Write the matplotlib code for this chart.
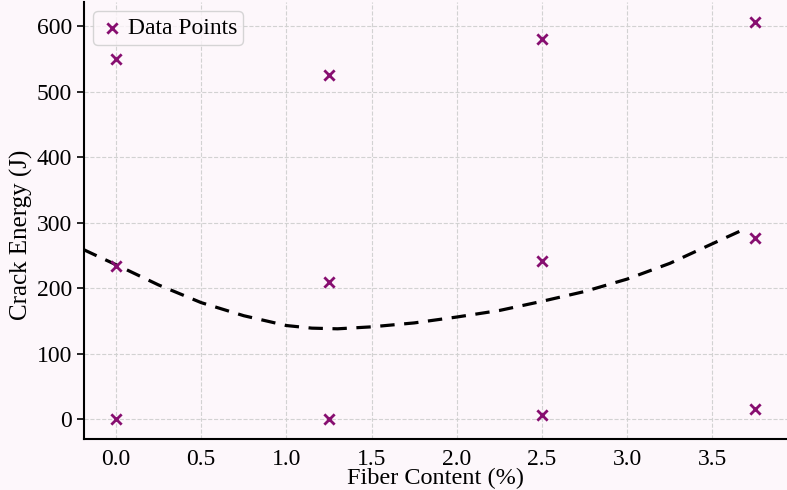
import numpy as np
import matplotlib
matplotlib.use("Agg")
import matplotlib.pyplot as plt

# measured data
fiber = [0.0, 0.0, 0.0, 1.25, 1.25, 1.25, 2.5, 2.5, 2.5, 3.75, 3.75, 3.75]
energy = [550, 234, 0, 525, 210, 0, 580, 242, 7, 607, 277, 15]

# fitted curve
fit_x = [-0.19, -0.1, 0.0, 0.25, 0.5, 0.75, 1.0, 1.15, 1.3, 1.5, 1.75, 2.0, 2.25, 2.5, 2.75, 3.0, 3.25, 3.5, 3.66]
fit_y = [259, 248, 236, 205, 178, 158, 143, 139, 138, 141, 147, 156, 166, 180, 195, 214, 238, 268, 287]

bg = "#fdf7fb"
plt.rcParams['font.family'] = ['Liberation Serif', 'DejaVu Serif']

fig = plt.figure(figsize=(7.87, 4.90), dpi=100, facecolor=bg)
ax = fig.add_axes([84 / 787, 51 / 490, 1 - 84 / 787, 1 - 51 / 490 - 0.004])
ax.set_facecolor(bg)

ax.scatter(fiber, energy, marker="x", color="#870e70", s=55, linewidths=2, label="Data Points", zorder=3)
ax.plot(fit_x, fit_y, "--", color="black", lw=2.3, dashes=(4.5, 3), zorder=2)

ax.set_xlim(-0.1875, 3.9375)
ax.set_ylim(-30.35, 637.35)
ax.set_xticks([0.0, 0.5, 1.0, 1.5, 2.0, 2.5, 3.0, 3.5])
ax.set_yticks([0, 100, 200, 300, 400, 500, 600])

ax.grid(True, linestyle="--", color="#d2d2d2", lw=0.8)
ax.set_axisbelow(True)
for s in ["top", "right"]:
    ax.spines[s].set_visible(False)
ax.spines["left"].set_linewidth(1.5)
ax.spines["bottom"].set_linewidth(1.5)

ax.tick_params(axis="both", labelsize=17)
ax.tick_params(axis="x", length=0, pad=7)
ax.tick_params(axis="y", length=5, width=1.2)

ax.set_xlabel("Fiber Content (%)", fontsize=17.5, labelpad=-1)
ax.set_ylabel("Crack Energy (J)", fontsize=18)
ax.yaxis.set_label_coords(-0.073, 0.467)

leg = ax.legend(loc="upper left", fontsize=17, handletextpad=0.1, borderpad=0.25,
                handlelength=1.1, borderaxespad=0.4, fancybox=True)
leg.get_frame().set_facecolor(bg)
leg.get_frame().set_edgecolor("#cccccc")

fig.savefig("out.png", dpi=100, facecolor=bg)
